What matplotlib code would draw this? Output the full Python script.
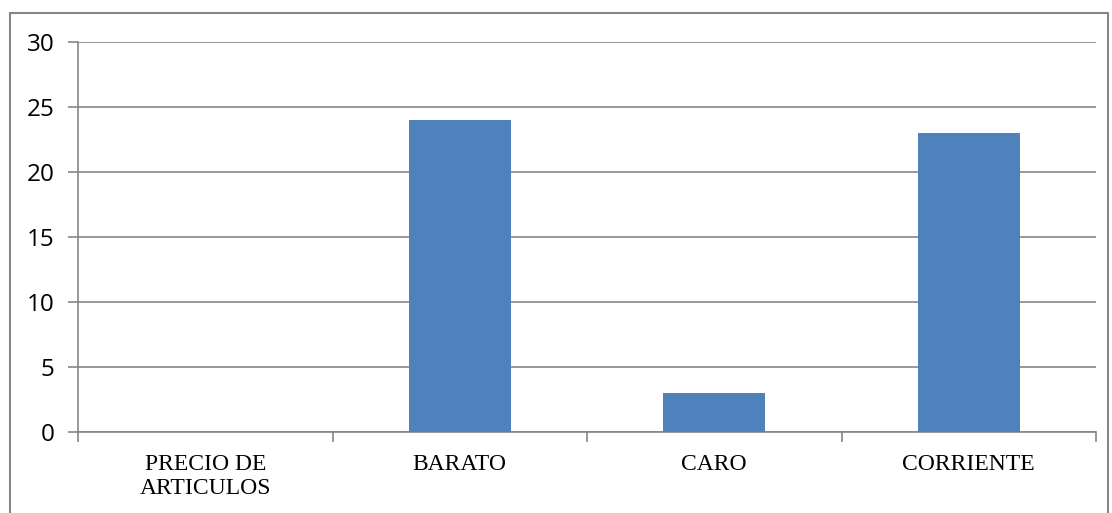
import matplotlib
matplotlib.use("Agg")
import matplotlib.pyplot as plt
import numpy as np

categories = ["PRECIO DE\nARTICULOS", "BARATO", "CARO", "CORRIENTE"]
values = [0, 24, 3, 23]
y_ticks = [0, 5, 10, 15, 20, 25, 30]

BAR_COLOR = "#4F81BD"
GRID_COLOR = "#868686"

fig = plt.figure(figsize=(11.12, 5.13), dpi=100)
ax = fig.add_axes([78 / 1112, 1 - 432 / 513, (1096 - 78) / 1112, (432 - 42) / 513])

x = np.arange(len(categories))
ax.bar(x, values, width=0.4, color=BAR_COLOR, zorder=3)

ax.set_xlim(-0.5, len(categories) - 0.5)
ax.set_ylim(0, 30)
ax.set_yticks(y_ticks)
ax.set_yticklabels([str(v) for v in y_ticks], fontsize=17.5, family="Open Sans")
ax.yaxis.grid(True, color=GRID_COLOR, lw=1.2, zorder=0)
ax.tick_params(axis="y", length=7, width=1.2, color=GRID_COLOR, pad=10)

# category boundaries as ticks, labels at centres
ax.set_xticks(np.arange(len(categories) + 1) - 0.5)
ax.set_xticklabels([])
ax.tick_params(axis="x", which="major", length=7, width=1.2, color=GRID_COLOR)
ax.set_xticks(x, minor=True)
ax.set_xticklabels(categories, minor=True, fontsize=17, family="Liberation Serif", linespacing=1.2)
ax.tick_params(axis="x", which="minor", length=0, pad=16)

for side in ("top", "right"):
    ax.spines[side].set_visible(False)
for side in ("left", "bottom"):
    ax.spines[side].set_color(GRID_COLOR)
    ax.spines[side].set_linewidth(1.2)

# outer chart frame
fig.add_artist(plt.Rectangle((10 / 1112, -0.01), 1098 / 1112, 1 - 13 / 513 + 0.01,
                             transform=fig.transFigure, fill=False,
                             edgecolor=GRID_COLOR, lw=1.5))

fig.savefig("out.png", dpi=100)
